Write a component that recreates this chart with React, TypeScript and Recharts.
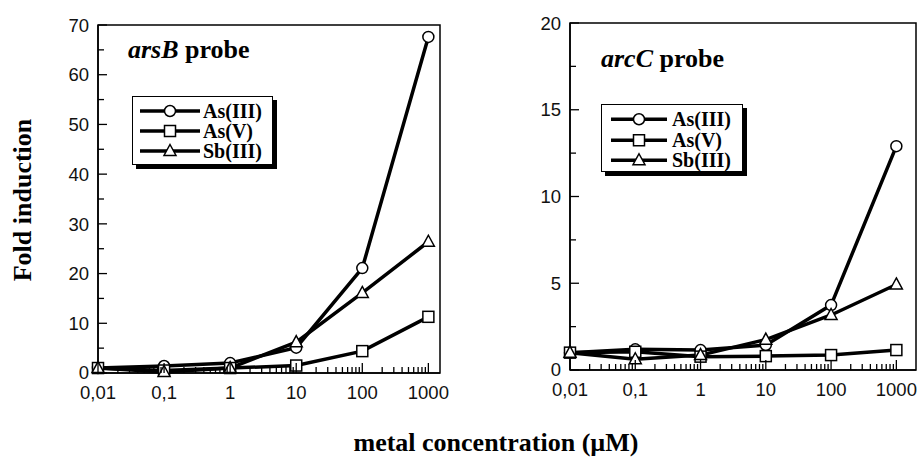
import { LineChart, Line, XAxis, YAxis, ReferenceArea, Legend } from 'recharts';

// metal concentration (µM), log axis
const CONC = [0.01, 0.1, 1, 10, 100, 1000];
const X_LABELS = ['0,01', '0,1', '1', '10', '100', '1000'];
const MINOR_STEPS = [2, 3, 4, 5, 6, 7, 8, 9];

// arsB probe
const ARSB_AS3 = [1.0, 1.4, 2.0, 5.1, 21.1, 67.6];
const ARSB_AS5 = [1.0, 0.5, 1.0, 1.5, 4.4, 11.3];
const ARSB_SB3 = [1.0, 0.2, 1.0, 6.2, 16.1, 26.4];
const ARSB_YTICKS = [0, 5, 10, 15, 20, 25, 30, 35, 40, 45, 50, 55, 60, 65, 70];

// arcC probe
const ARCC_AS3 = [1.0, 1.19, 1.15, 1.44, 3.74, 12.9];
const ARCC_AS5 = [1.0, 1.05, 0.77, 0.8, 0.86, 1.15];
const ARCC_SB3 = [1.0, 0.62, 0.86, 1.75, 3.17, 4.93];
const ARCC_YTICKS = [0, 2.5, 5, 7.5, 10, 12.5, 15, 17.5, 20];

const SERIES = [
  { key: 'as3', name: 'As(III)', shape: 'circle' },
  { key: 'as5', name: 'As(V)', shape: 'square' },
  { key: 'sb3', name: 'Sb(III)', shape: 'triangle' },
];

const SERIF = '"Liberation Serif", "Times New Roman", serif';
const SANS = '"Liberation Sans", Arial, sans-serif';

const X_TICKS = [
  ...CONC,
  ...CONC.slice(0, -1).flatMap((d) => MINOR_STEPS.map((k) => d * k)),
].sort((a, b) => a - b);

function buildRows(as3: number[], as5: number[], sb3: number[]) {
  return CONC.map((c, i) => ({ conc: c, as3: as3[i], as5: as5[i], sb3: sb3[i] }));
}

function majorIndex(v: number) {
  return CONC.findIndex((c) => Math.abs(c - v) / c < 1e-6);
}

function Marker({ shape, cx, cy }: { shape: string; cx: number; cy: number }) {
  const common = { fill: '#fff', stroke: '#000', strokeWidth: 1.5 };
  if (shape === 'circle') return <circle cx={cx} cy={cy} r={5.5} {...common} />;
  if (shape === 'square') return <rect x={cx - 5.5} y={cy - 5.5} width={11} height={11} {...common} />;
  return (
    <polygon
      points={`${cx},${cy - 6.5} ${cx + 6},${cy + 4.5} ${cx - 6},${cy + 4.5}`}
      {...common}
    />
  );
}

function dotFor(shape: string) {
  return (p: any) => {
    if (p.cx == null || p.cy == null) return <g key={`e-${p.index}`} />;
    return (
      <g key={`${shape}-${p.index}`}>
        <Marker shape={shape} cx={p.cx} cy={p.cy} />
      </g>
    );
  };
}

function XTick(props: any) {
  const { x, y, payload } = props;
  const idx = majorIndex(payload.value);
  const len = idx >= 0 ? 10 : 6;
  return (
    <g>
      <line x1={x} x2={x} y1={y} y2={y - len} stroke="#000" strokeWidth={1.3} />
      {idx >= 0 && (
        <text x={x} y={y + 26} textAnchor="middle" fontFamily={SANS} fontSize={18.5} fill="#111">
          {X_LABELS[idx]}
        </text>
      )}
    </g>
  );
}

function YTick(props: any) {
  const { x, y, payload, labelStep } = props;
  const v = payload.value as number;
  const major = Math.abs(v / labelStep - Math.round(v / labelStep)) < 1e-6;
  return (
    <g>
      <line x1={x} x2={x + (major ? 9 : 6)} y1={y} y2={y} stroke="#000" strokeWidth={1.3} />
      {major && (
        <text
          x={x - 9}
          y={y - (v === 0 ? 1 : 0)}
          dy="0.36em"
          textAnchor="end"
          fontFamily={SANS}
          fontSize={18.5}
          fill="#111"
        >
          {v}
        </text>
      )}
    </g>
  );
}

function LegendBox({ payload, width, height, padTop, rowH, lineFrom, lineTo, svgW }: any) {
  return (
    <div
      style={{
        width,
        height,
        boxSizing: 'border-box',
        border: '1.5px solid #000',
        boxShadow: '4px 4px 0 #000',
        background: '#fff',
        paddingTop: padTop,
      }}
    >
      {(payload || []).map((entry: any) => {
        const s = SERIES.find((d) => d.key === entry.dataKey);
        const mid = (lineFrom + lineTo) / 2;
        return (
          <div key={entry.dataKey} style={{ display: 'flex', alignItems: 'center', height: rowH }}>
            <svg width={svgW} height={rowH} style={{ flexShrink: 0 }}>
              <line x1={lineFrom} x2={lineTo} y1={rowH / 2} y2={rowH / 2} stroke="#000" strokeWidth={3.5} />
              <Marker shape={s ? s.shape : 'circle'} cx={mid} cy={rowH / 2} />
            </svg>
            <span
              style={{
                fontFamily: SERIF,
                fontWeight: 'bold',
                fontSize: 20,
                lineHeight: `${rowH}px`,
                color: '#000',
                whiteSpace: 'nowrap',
              }}
            >
              {entry.value}
            </span>
          </div>
        );
      })}
    </div>
  );
}

function Panel({
  data,
  left,
  width,
  margin,
  xMax,
  yMax,
  yTicks,
  labelStep,
  title,
  titleRest,
  titlePos,
  legendPos,
}: any) {
  return (
    <div style={{ position: 'absolute', left, top: 0, width, height: 420 }}>
      <LineChart width={width} height={420} data={data} margin={margin}>
        <XAxis
          dataKey="conc"
          type="number"
          scale="log"
          domain={[0.01, xMax]}
          ticks={X_TICKS}
          interval={0}
          height={30}
          tickSize={0}
          tickMargin={0}
          tickLine={false}
          tick={<XTick />}
          axisLine={{ stroke: '#000', strokeWidth: 1.5 }}
        />
        <YAxis
          type="number"
          domain={[0, yMax]}
          ticks={yTicks}
          interval={0}
          width={40}
          tickSize={0}
          tickMargin={0}
          tickLine={false}
          tick={<YTick labelStep={labelStep} />}
          axisLine={{ stroke: '#000', strokeWidth: 1.5 }}
        />
        <ReferenceArea
          x1={0.01}
          x2={xMax}
          y1={0}
          y2={yMax}
          fill="none"
          fillOpacity={0}
          stroke="#000"
          strokeWidth={1.5}
        />
        {SERIES.map((s) => (
          <Line
            key={s.key}
            type="linear"
            dataKey={s.key}
            name={s.name}
            stroke="#000"
            strokeWidth={3.5}
            dot={dotFor(s.shape)}
            activeDot={false}
            isAnimationActive={false}
          />
        ))}
        <Legend
          layout="vertical"
          align="center"
          verticalAlign="middle"
          wrapperStyle={{ left: legendPos.left, top: legendPos.top, width: 'auto' }}
          content={(p: any) => <LegendBox payload={p.payload} {...legendPos.box} />}
        />
      </LineChart>
      <div
        style={{
          position: 'absolute',
          left: titlePos.left,
          top: titlePos.top,
          fontFamily: SERIF,
          fontWeight: 'bold',
          fontSize: 26,
          lineHeight: '26px',
          whiteSpace: 'nowrap',
          color: '#000',
        }}
      >
        <i>{title}</i> {titleRest}
      </div>
    </div>
  );
}

export default function App() {
  const arsB = buildRows(ARSB_AS3, ARSB_AS5, ARSB_SB3);
  const arcC = buildRows(ARCC_AS3, ARCC_AS5, ARCC_SB3);
  return (
    <div
      style={{
        position: 'absolute',
        left: 0,
        top: 0,
        width: 918,
        height: 463,
        background: '#fff',
        overflow: 'hidden',
      }}
    >
      <Panel
        data={arsB}
        left={0}
        width={460}
        margin={{ top: 25, right: 20, left: 58, bottom: 17 }}
        xMax={1500}
        yMax={70}
        yTicks={ARSB_YTICKS}
        labelStep={10}
        title="arsB"
        titleRest="probe"
        titlePos={{ left: 128, top: 37 }}
        legendPos={{
          left: 132,
          top: 96,
          box: { width: 141, height: 69, padTop: 4, rowH: 20, lineFrom: 7, lineTo: 67, svgW: 70 },
        }}
      />
      <Panel
        data={arcC}
        left={470}
        width={448}
        margin={{ top: 23, right: 2, left: 60, bottom: 20 }}
        xMax={2000}
        yMax={20}
        yTicks={ARCC_YTICKS}
        labelStep={5}
        title="arcC"
        titleRest="probe"
        titlePos={{ left: 131, top: 46 }}
        legendPos={{
          left: 131,
          top: 104,
          box: { width: 142, height: 68, padTop: 4, rowH: 20.5, lineFrom: 9, lineTo: 65, svgW: 70 },
        }}
      />
      <div
        style={{
          position: 'absolute',
          left: 0,
          top: 100,
          width: 46,
          height: 200,
          display: 'flex',
          alignItems: 'center',
          justifyContent: 'center',
        }}
      >
        <div
          style={{
            transform: 'rotate(-90deg)',
            fontFamily: SERIF,
            fontWeight: 'bold',
            fontSize: 26,
            whiteSpace: 'nowrap',
            color: '#000',
          }}
        >
          Fold induction
        </div>
      </div>
      <div
        style={{
          position: 'absolute',
          left: 296,
          width: 400,
          top: 430,
          textAlign: 'center',
          fontFamily: SERIF,
          fontWeight: 'bold',
          fontSize: 26,
          lineHeight: '26px',
          whiteSpace: 'nowrap',
          color: '#000',
        }}
      >
        metal concentration (µM)
      </div>
    </div>
  );
}
